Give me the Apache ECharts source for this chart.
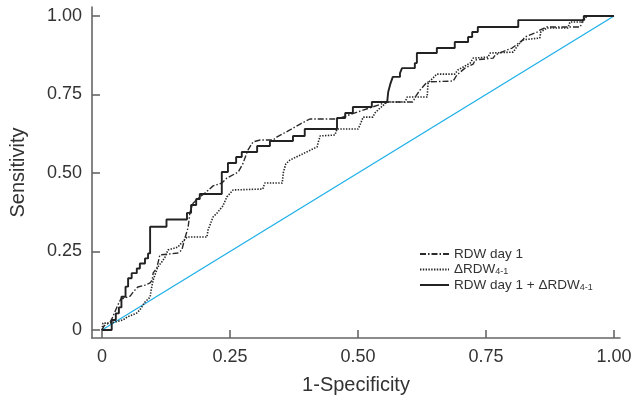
<!DOCTYPE html>
<html>
<head>
<meta charset="utf-8">
<script src="https://cdn.jsdelivr.net/npm/echarts@6/dist/echarts.min.js"></script>
<style>
html,body{margin:0;padding:0;background:#fff;}
#chart{width:635px;height:408px;}
</style>
</head>
<body>
<div id="chart"></div>
<script>
// Tick values and labels
const tickValues = [0, 0.25, 0.5, 0.75, 1];
const tickLabels = ['0', '0.25', '0.50', '0.75', '1.00'];

// Series names
const seriesNames = ['RDW day 1', 'ΔRDW4-1', 'RDW day 1 + ΔRDW4-1'];

// RDW day 1 (dash-dot) : [1-specificity, sensitivity]
const rdwDay1 = [
  [0,0],[0.004,0.013],[0.016,0.025],[0.020,0.038],[0.025,0.057],[0.031,0.080],[0.037,0.099],
  [0.045,0.102],[0.055,0.108],[0.061,0.121],[0.070,0.137],[0.084,0.143],[0.094,0.150],
  [0.098,0.159],[0.100,0.182],[0.107,0.197],[0.113,0.239],[0.148,0.245],[0.156,0.255],
  [0.162,0.293],[0.168,0.325],[0.172,0.376],[0.178,0.404],[0.191,0.424],[0.201,0.436],
  [0.217,0.459],[0.234,0.468],[0.244,0.484],[0.266,0.503],[0.275,0.529],[0.285,0.573],
  [0.295,0.599],[0.309,0.605],[0.334,0.605],[0.342,0.615],[0.367,0.637],[0.387,0.656],
  [0.406,0.672],[0.459,0.672],[0.504,0.697],[0.557,0.726],[0.607,0.726],[0.613,0.745],
  [0.621,0.764],[0.635,0.790],[0.686,0.793],[0.693,0.812],[0.709,0.834],[0.725,0.847],
  [0.729,0.860],[0.764,0.866],[0.768,0.876],[0.791,0.892],[0.801,0.898],[0.822,0.924],
  [0.826,0.933],[0.850,0.949],[0.855,0.955],[0.869,0.965],[0.934,0.965],[0.939,0.987],
  [0.947,1],[1,1]
];

// ΔRDW4-1 (dotted)
const deltaRdw = [
  [0,0],[0.002,0.022],[0.016,0.022],[0.025,0.025],[0.041,0.032],[0.049,0.041],[0.068,0.054],
  [0.074,0.064],[0.084,0.089],[0.094,0.105],[0.096,0.127],[0.100,0.159],[0.109,0.201],
  [0.117,0.217],[0.123,0.232],[0.129,0.255],[0.148,0.264],[0.152,0.271],[0.166,0.296],
  [0.205,0.296],[0.207,0.318],[0.217,0.360],[0.225,0.373],[0.236,0.395],[0.244,0.424],
  [0.256,0.446],[0.314,0.449],[0.318,0.468],[0.352,0.468],[0.354,0.500],[0.359,0.529],
  [0.367,0.541],[0.387,0.557],[0.420,0.583],[0.422,0.596],[0.426,0.618],[0.455,0.621],
  [0.459,0.640],[0.500,0.640],[0.504,0.653],[0.510,0.678],[0.529,0.678],[0.533,0.691],
  [0.543,0.707],[0.557,0.726],[0.592,0.726],[0.596,0.742],[0.635,0.742],[0.637,0.787],
  [0.654,0.815],[0.689,0.815],[0.695,0.828],[0.719,0.850],[0.725,0.866],[0.754,0.869],
  [0.758,0.882],[0.803,0.885],[0.813,0.908],[0.822,0.924],[0.855,0.930],[0.857,0.949],
  [0.869,0.962],[0.910,0.962],[0.914,0.981],[0.939,0.981],[0.947,1],[1,1]
];

// RDW day 1 + ΔRDW4-1 (solid)
const combined = [
  [0,0],[0.019,0],[0.019,0.032],[0.027,0.032],[0.027,0.053],[0.033,0.053],[0.033,0.072],
  [0.038,0.072],[0.038,0.106],[0.046,0.106],[0.046,0.138],[0.051,0.138],[0.051,0.165],
  [0.058,0.165],[0.058,0.181],[0.068,0.181],[0.068,0.196],[0.074,0.196],[0.074,0.212],
  [0.084,0.212],[0.084,0.228],[0.090,0.228],[0.090,0.244],[0.094,0.244],[0.094,0.329],
  [0.126,0.329],[0.126,0.352],[0.166,0.352],[0.166,0.373],[0.174,0.373],[0.174,0.398],
  [0.184,0.398],[0.184,0.417],[0.191,0.417],[0.191,0.433],[0.234,0.433],[0.234,0.503],
  [0.246,0.503],[0.246,0.532],[0.262,0.532],[0.262,0.551],[0.273,0.551],[0.273,0.567],
  [0.303,0.567],[0.303,0.586],[0.328,0.586],[0.328,0.602],[0.373,0.602],[0.373,0.618],
  [0.396,0.618],[0.396,0.640],[0.459,0.640],[0.459,0.675],[0.475,0.675],[0.475,0.691],
  [0.490,0.691],[0.490,0.710],[0.527,0.710],[0.527,0.726],[0.557,0.726],[0.559,0.758],
  [0.563,0.783],[0.568,0.806],[0.582,0.806],[0.582,0.818],[0.586,0.834],[0.611,0.834],
  [0.611,0.850],[0.615,0.850],[0.615,0.882],[0.654,0.882],[0.654,0.898],[0.689,0.898],
  [0.689,0.917],[0.715,0.917],[0.715,0.933],[0.723,0.933],[0.723,0.949],[0.734,0.949],
  [0.734,0.965],[0.813,0.965],[0.813,0.987],[0.941,0.987],[0.941,1],[1,1]
];

// Reference (chance) line
const chanceLine = [[0,0],[1,1]];

const FONT = '"Liberation Sans", Arial, sans-serif';
const AXIS_COLOR = '#666';
const TEXT_COLOR = '#333';

function tickFormatter(v) {
  const i = tickValues.findIndex(t => Math.abs(t - v) < 1e-9);
  return i >= 0 ? tickLabels[i] : '';
}

const chart = echarts.init(document.getElementById('chart'), null, {renderer: 'canvas'});

const axisCommon = {
  type: 'value',
  splitLine: {show: false},
  axisLine: {show: true, onZero: false, lineStyle: {color: AXIS_COLOR, width: 1.6}},
  axisTick: {show: true, inside: true, length: 8, customValues: tickValues, lineStyle: {color: AXIS_COLOR, width: 1.6}},
  axisLabel: {customValues: tickValues, formatter: tickFormatter, color: TEXT_COLOR, fontFamily: FONT, fontSize: 18, margin: 10},
  nameLocation: 'middle',
  nameTextStyle: {color: TEXT_COLOR, fontFamily: FONT, fontSize: 20}
};

const legendRich = {
  a: {fontFamily: FONT, fontSize: 13.5, color: TEXT_COLOR},
  s: {fontFamily: FONT, fontSize: 9, color: TEXT_COLOR, verticalAlign: 'bottom', padding: [4, 0, 0, 0]}
};

function legendFormatter(name) {
  return name.replace(/(4-1)/g, '{s|$1}').replace(/^([^{]+)/, '{a|$1}').replace(/\}([^{]+)\{/g, '}{a|$1}{');
}

chart.setOption({
  animation: false,
  backgroundColor: '#fff',
  grid: {left: 92, right: 15, top: 7, bottom: 70, containLabel: false},
  xAxis: Object.assign({}, axisCommon, {
    min: -0.0195, max: 1.0117,
    name: '1-Specificity', nameGap: 37
  }),
  yAxis: Object.assign({}, axisCommon, {
    min: -0.0255, max: 1.0287,
    name: 'Sensitivity', nameGap: 64
  }),
  legend: {
    data: seriesNames,
    orient: 'vertical',
    left: 414, top: 242,
    itemWidth: 29, itemHeight: 14, itemGap: 1.5,
    itemStyle: {opacity: 0},
    formatter: legendFormatter,
    textStyle: {rich: legendRich, fontFamily: FONT, fontSize: 13.5, color: TEXT_COLOR},
    selectedMode: false
  },
  series: [
    {
      name: 'chance', type: 'line', data: chanceLine, symbol: 'none', silent: true,
      lineStyle: {color: '#1fb0e8', width: 1.3}, z: 1
    },
    {
      name: seriesNames[0], type: 'line', data: rdwDay1, symbol: 'none',
      lineStyle: {color: '#2a2a2a', width: 1.4, type: [6, 2, 1.5, 2]}, itemStyle: {color: '#2a2a2a'}, z: 3
    },
    {
      name: seriesNames[1], type: 'line', data: deltaRdw, symbol: 'none',
      lineStyle: {color: '#262626', width: 1.6, type: [1.4, 1.4]}, itemStyle: {color: '#262626'}, z: 2
    },
    {
      name: seriesNames[2], type: 'line', data: combined, symbol: 'none',
      lineStyle: {color: '#222', width: 1.9}, itemStyle: {color: '#222'}, z: 4
    }
  ]
});
</script>
</body>
</html>
